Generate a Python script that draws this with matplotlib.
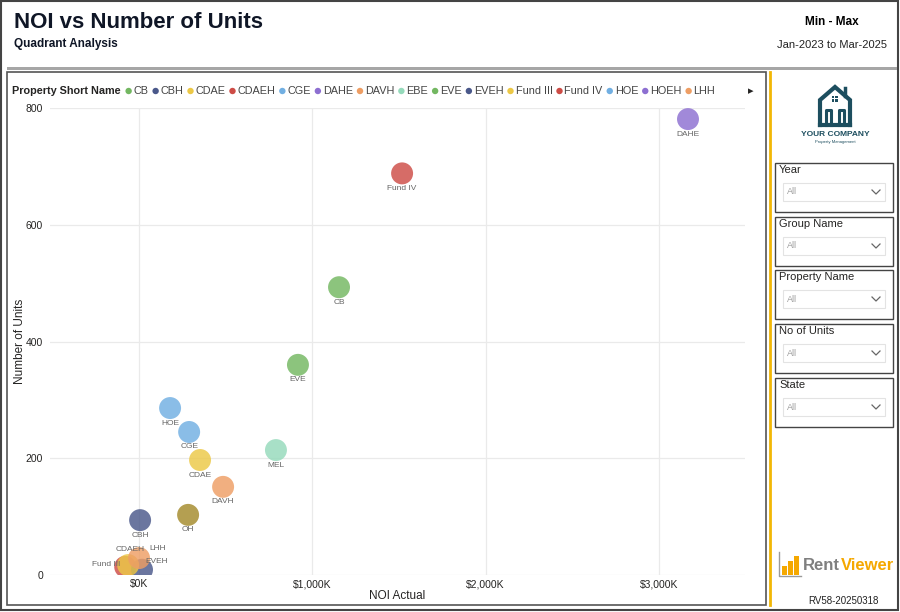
import numpy as np
import matplotlib
matplotlib.use("Agg")
import matplotlib.pyplot as plt
from matplotlib.patches import Rectangle, Circle
from matplotlib.ticker import FuncFormatter

plt.rcParams['font.family'] = ['Liberation Sans', 'DejaVu Sans']

# data (NOI in $K, units)
names = ["CB", "CBH", "CDAE", "CDAEH", "CGE", "DAHE", "DAVH", "EVE", "EVEH",
         "Fund III", "Fund IV", "HOE", "LHH", "MEL", "OH"]
noi = [1154, 6, 352, -80, 289, 3168, 485, 917, 17, -63, 1518, 179, 0, 790, 283]
units = [493, 94, 197, 14, 245, 781, 151, 360, 9, 17, 688, 286, 29, 214, 103]
colors = ["#73B761", "#4A588A", "#ECC846", "#CD4C46", "#71AFE2", "#8D6FD1",
          "#EE9E64", "#73B761", "#4A588A", "#ECC846", "#CD4C46", "#71AFE2",
          "#EE9E64", "#95DABB", "#A48A2B"]
# label offsets in pixels (default below the bubble)
label_off = {"CDAEH": (5, 17), "LHH": (19, 10), "EVEH": (15, 8), "Fund III": (-22, 1)}

legend_names = ["CB", "CBH", "CDAE", "CDAEH", "CGE", "DAHE", "DAVH", "EBE", "EVE",
                "EVEH", "Fund III", "Fund IV", "HOE", "HOEH", "LHH"]
legend_colors = ["#73B761", "#4A588A", "#ECC846", "#CD4C46", "#71AFE2", "#8D6FD1",
                 "#EE9E64", "#95DABB", "#73B761", "#4A588A", "#ECC846", "#CD4C46",
                 "#71AFE2", "#8D6FD1", "#EE9E64"]

slicers = ["Year", "Group Name", "Property Name", "No of Units", "State"]
slicer_tops = [163, 217, 270, 324, 378]

fig = plt.figure(figsize=(9, 6.12), dpi=100)
fig.patch.set_facecolor("white")

# background canvas in pixel coords
bg = fig.add_axes([0, 0, 1, 1], zorder=0)
bg.set_xlim(0, 900)
bg.set_ylim(612, 0)
bg.axis("off")

bg.add_patch(Rectangle((1, 1), 897, 609, fill=False, ec="#444444", lw=1.5))
bg.add_patch(Rectangle((7, 67), 890, 3, fc="#A6A6A6", ec="none"))
bg.add_patch(Rectangle((7, 72), 759, 533, fill=False, ec="#555555", lw=1.2))
bg.plot([770, 770], [72, 605], color="#F2B705", lw=2)

bg.text(14, 23, "NOI vs Number of Units", fontsize=16, fontweight="bold",
        color="#0F1626", va="center")
bg.text(14, 44, "Quadrant Analysis", fontsize=8.5, fontweight="bold",
        color="#0F1626", va="center")
bg.text(832, 22, "Min - Max", fontsize=8.5, fontweight="bold", color="black",
        ha="center", va="center")
bg.text(832, 45, "Jan-2023 to Mar-2025", fontsize=8, color="#222222",
        ha="center", va="center")

# legend row
renderer = fig.canvas.get_renderer()
t = bg.text(12, 91, "Property Short Name", fontsize=7.8, fontweight="bold",
            color="#252423", va="center")
x = t.get_window_extent(renderer).x1 + 8
for n, c in zip(legend_names, legend_colors):
    bg.add_patch(Circle((x, 91), 3.2, fc=c, ec="none"))
    t = bg.text(x + 5, 91, n, fontsize=7.8, color="#444444", va="center")
    x = t.get_window_extent(renderer).x1 + 7
bg.text(751, 91, "\u25B8", fontsize=8, color="#252423", ha="center", va="center")

# company logo
teal = "#1D4E5F"
bg.plot([820, 820, 835, 850, 850], [125, 100, 87, 100, 125], color=teal, lw=3,
        solid_joinstyle="miter")
bg.plot([845, 845], [88, 96], color=teal, lw=2.5)
bg.plot([826, 826, 831, 831], [125, 110, 110, 125], color=teal, lw=2.2)
bg.plot([839, 839, 844, 844], [125, 110, 110, 125], color=teal, lw=2.2)
bg.plot([820, 850], [125, 125], color=teal, lw=3)
for wx in (833, 836.5):
    for wy in (97, 100.5):
        bg.add_patch(Rectangle((wx - 1.3, wy - 1.3), 2.6, 2.6, fc=teal, ec="none"))
bg.text(835, 135, "YOUR COMPANY", fontsize=6, fontweight="bold", color=teal,
        ha="center", va="center")
bg.text(835, 141.5, "Property Management", fontsize=3, color=teal,
        ha="center", va="center")

# slicers
for s, top in zip(slicers, slicer_tops):
    bg.add_patch(Rectangle((775, top), 118, 49, fill=False, ec="#444444", lw=1))
    bg.text(779, top + 7, s, fontsize=8, color="#252423", va="center")
    bg.add_patch(Rectangle((783, top + 20), 102, 18, fc="white", ec="#E3E3E3", lw=0.8))
    bg.text(787, top + 29, "All", fontsize=6.5, color="#A0A0A0", va="center")
    bg.plot([872, 876, 880], [top + 27, top + 31, top + 27], color="#666666", lw=0.9)

# RentViewer logo
bg.plot([779, 779, 801], [552, 576, 576], color="#9A9A9A", lw=1)
for bx, bh in zip([782, 788, 794], [9, 14, 19]):
    bg.add_patch(Rectangle((bx, 575 - bh), 4.5, bh, fc="#F5A800", ec="none"))
t = bg.text(803, 565, "Rent", fontsize=12, fontweight="bold", color="#7F7F7F",
            va="center")
bg.text(t.get_window_extent(renderer).x1 + 1, 565, "Viewer", fontsize=12,
        fontweight="bold", color="#F5A800", va="center")
bg.text(843, 601, "RV58-20250318", fontsize=7, color="#222222",
        ha="center", va="center")

# scatter chart
ax = fig.add_axes([50 / 900, 1 - 575 / 612, 695 / 900, 467 / 612], zorder=1)
ax.patch.set_alpha(0)
ax.scatter(noi, units, s=250, c=colors, alpha=0.82, edgecolors="none", zorder=3)
for n, xv, yv in zip(names, noi, units):
    dx, dy = label_off.get(n, (0, -15))
    ax.annotate(n, (xv, yv), xytext=(dx, dy), textcoords="offset pixels",
                ha="center", va="center", fontsize=6, color="#666666", zorder=4)

ax.set_xlim(-514, 3497)
ax.set_ylim(0, 800)
ax.set_xticks([0, 1000, 2000, 3000])
ax.set_yticks([0, 200, 400, 600, 800])
ax.xaxis.set_major_formatter(FuncFormatter(lambda v, p: f"${v:,.0f}K"))
ax.grid(True, color="#EAEAEA", lw=0.9, zorder=0)
ax.set_axisbelow(True)
for sp in ax.spines.values():
    sp.set_visible(False)
ax.tick_params(axis="y", length=0, labelsize=7.5, labelcolor="#252423", pad=5)
ax.tick_params(axis="x", length=0, labelsize=7.5, labelcolor="#252423", pad=3)
ax.set_xlabel("NOI Actual", fontsize=8.5, color="#252423")
ax.set_ylabel("Number of Units", fontsize=8.5, color="#252423")
ax.xaxis.set_label_coords(0.5, -15 / 467)
ax.yaxis.set_label_coords(-24 / 695, 0.5)

fig.savefig("out.png", dpi=100)
